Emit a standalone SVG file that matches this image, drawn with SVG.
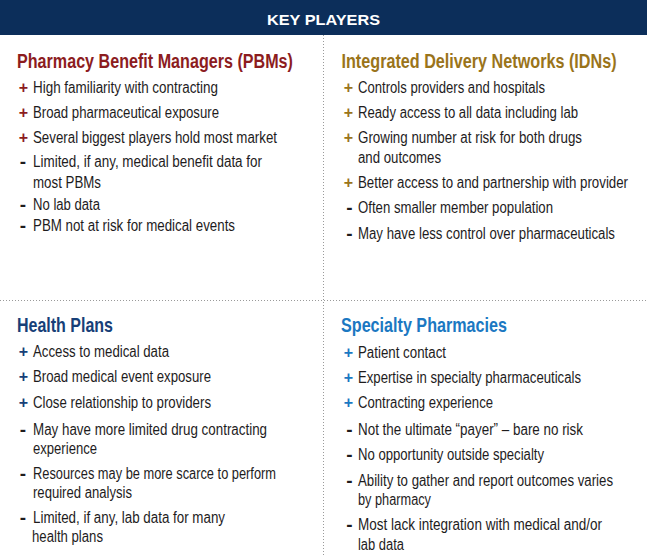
<svg xmlns="http://www.w3.org/2000/svg" width="647" height="557" viewBox="0 0 647 557">
<style>
text{font-family:"Liberation Sans",Arial,sans-serif}
.hdr{font-size:15px;font-weight:bold;fill:#ffffff}
.t{font-size:21px;font-weight:bold}
.b{font-size:16px;fill:#1e1c1d}
.s{font-size:16px;font-weight:bold;text-anchor:middle}
.m{font-size:19px;font-weight:bold;text-anchor:middle;fill:#1e1c1d}
.red{fill:#8c1c1e}
.gold{fill:#9a741a}
.navy{fill:#173f78}
.blue{fill:#1b78c2}
.div{stroke:#9a9a9a;stroke-width:1;stroke-dasharray:1 2;fill:none}
</style>
<rect x="0" y="0" width="647" height="557" fill="#ffffff"/>
<g id="header">
<rect x="0" y="0" width="647" height="35" fill="#0c2e5a"/>
<text class="hdr" x="267" y="25" textLength="113" lengthAdjust="spacingAndGlyphs">KEY PLAYERS</text>
</g>
<g id="dividers">
<line class="div" x1="323.5" y1="35" x2="323.5" y2="557"/>
<line class="div" x1="0" y1="300.5" x2="647" y2="300.5"/>
</g>
<g id="pbms">
<text class="t red" transform="translate(17,68) scale(0.78,1)" x="0" y="0" textLength="353.8" lengthAdjust="spacingAndGlyphs">Pharmacy Benefit Managers (PBMs)</text>
<text class="s red" x="23.5" y="93">+</text>
<text class="b" x="33" y="93" textLength="185" lengthAdjust="spacingAndGlyphs">High familiarity with contracting</text>
<text class="s red" x="23.5" y="118">+</text>
<text class="b" x="33" y="118" textLength="186" lengthAdjust="spacingAndGlyphs">Broad pharmaceutical exposure</text>
<text class="s red" x="23.5" y="143">+</text>
<text class="b" x="33" y="143" textLength="244" lengthAdjust="spacingAndGlyphs">Several biggest players hold most market</text>
<text class="m" x="23" y="168">-</text>
<text class="b" x="33" y="167" textLength="229" lengthAdjust="spacingAndGlyphs">Limited, if any, medical benefit data for</text>
<text class="b" x="33" y="188" textLength="68" lengthAdjust="spacingAndGlyphs">most PBMs</text>
<text class="m" x="23" y="211">-</text>
<text class="b" x="33" y="210" textLength="67" lengthAdjust="spacingAndGlyphs">No lab data</text>
<text class="m" x="23" y="232">-</text>
<text class="b" x="33" y="231" textLength="202" lengthAdjust="spacingAndGlyphs">PBM not at risk for medical events</text>
</g>
<g id="idns">
<text class="t gold" transform="translate(341.5,68) scale(0.78,1)" x="0" y="0" textLength="352.6" lengthAdjust="spacingAndGlyphs">Integrated Delivery Networks (IDNs)</text>
<text class="s gold" x="348.5" y="93">+</text>
<text class="b" x="358" y="93" textLength="187" lengthAdjust="spacingAndGlyphs">Controls providers and hospitals</text>
<text class="s gold" x="348.5" y="118">+</text>
<text class="b" x="358" y="118" textLength="220" lengthAdjust="spacingAndGlyphs">Ready access to all data including lab</text>
<text class="s gold" x="348.5" y="143">+</text>
<text class="b" x="358" y="143" textLength="224" lengthAdjust="spacingAndGlyphs">Growing number at risk for both drugs</text>
<text class="b" x="358" y="163" textLength="83" lengthAdjust="spacingAndGlyphs">and outcomes</text>
<text class="s gold" x="348.5" y="188">+</text>
<text class="b" transform="translate(358,188) scale(0.82,1)" x="0" y="0" textLength="329.3" lengthAdjust="spacingAndGlyphs">Better access to and partnership with provider</text>
<text class="m" x="349.5" y="214">-</text>
<text class="b" x="358" y="213" textLength="195" lengthAdjust="spacingAndGlyphs">Often smaller member population</text>
<text class="m" x="349.5" y="240">-</text>
<text class="b" transform="translate(358,239) scale(0.82,1)" x="0" y="0" textLength="313.4" lengthAdjust="spacingAndGlyphs">May have less control over pharmaceuticals</text>
</g>
<g id="health-plans">
<text class="t navy" x="17" y="332" textLength="96" lengthAdjust="spacingAndGlyphs">Health Plans</text>
<text class="s navy" x="23.5" y="357">+</text>
<text class="b" x="33" y="357" textLength="136" lengthAdjust="spacingAndGlyphs">Access to medical data</text>
<text class="s navy" x="23.5" y="382">+</text>
<text class="b" x="33" y="382" textLength="178" lengthAdjust="spacingAndGlyphs">Broad medical event exposure</text>
<text class="s navy" x="23.5" y="407.5">+</text>
<text class="b" x="33" y="407.5" textLength="178" lengthAdjust="spacingAndGlyphs">Close relationship to providers</text>
<text class="m" x="23" y="436">-</text>
<text class="b" x="33" y="435" textLength="234" lengthAdjust="spacingAndGlyphs">May have more limited drug contracting</text>
<text class="b" x="33" y="454" textLength="64" lengthAdjust="spacingAndGlyphs">experience</text>
<text class="m" x="23" y="480">-</text>
<text class="b" x="33" y="479" textLength="243" lengthAdjust="spacingAndGlyphs">Resources may be more scarce to perform</text>
<text class="b" x="33" y="498" textLength="99" lengthAdjust="spacingAndGlyphs">required analysis</text>
<text class="m" x="23" y="524">-</text>
<text class="b" x="33" y="523" textLength="192" lengthAdjust="spacingAndGlyphs">Limited, if any, lab data for many</text>
<text class="b" x="32" y="542" textLength="71" lengthAdjust="spacingAndGlyphs">health plans</text>
</g>
<g id="specialty-pharmacies">
<text class="t blue" x="341" y="332" textLength="166" lengthAdjust="spacingAndGlyphs">Specialty Pharmacies</text>
<text class="s blue" x="348.5" y="357.5">+</text>
<text class="b" x="358" y="357.5" textLength="88" lengthAdjust="spacingAndGlyphs">Patient contact</text>
<text class="s blue" x="348.5" y="382.5">+</text>
<text class="b" x="358" y="382.5" textLength="223" lengthAdjust="spacingAndGlyphs">Expertise in specialty pharmaceuticals</text>
<text class="s blue" x="348.5" y="408">+</text>
<text class="b" x="358" y="408" textLength="135" lengthAdjust="spacingAndGlyphs">Contracting experience</text>
<text class="m" x="349.5" y="436">-</text>
<text class="b" x="358" y="435" textLength="225" lengthAdjust="spacingAndGlyphs">Not the ultimate “payer” – bare no risk</text>
<text class="m" x="349.5" y="461">-</text>
<text class="b" x="358" y="460" textLength="186" lengthAdjust="spacingAndGlyphs">No opportunity outside specialty</text>
<text class="m" x="349.5" y="487">-</text>
<text class="b" transform="translate(358,486) scale(0.82,1)" x="0" y="0" textLength="311" lengthAdjust="spacingAndGlyphs">Ability to gather and report outcomes varies</text>
<text class="b" x="358" y="505" textLength="73" lengthAdjust="spacingAndGlyphs">by pharmacy</text>
<text class="m" x="349.5" y="531">-</text>
<text class="b" transform="translate(358,530) scale(0.82,1)" x="0" y="0" textLength="297.6" lengthAdjust="spacingAndGlyphs">Most lack integration with medical and/or</text>
<text class="b" x="358" y="550" textLength="46" lengthAdjust="spacingAndGlyphs">lab data</text>
</g>
</svg>
